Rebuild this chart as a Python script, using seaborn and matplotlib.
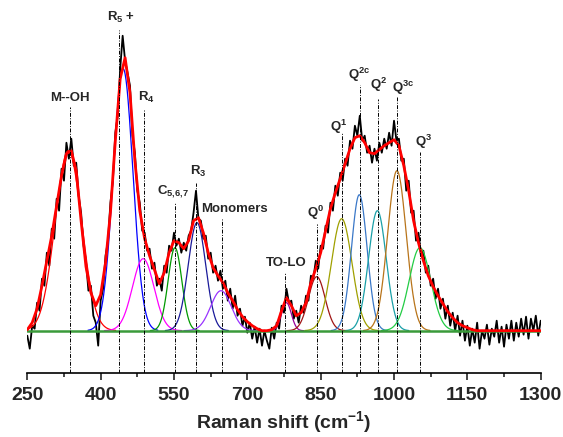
import numpy as np
import pandas as pd
import seaborn as sns
import matplotlib.pyplot as plt

# Raman shift grid of the measured spectrum (cm-1), 5 cm-1 steps
shift = np.arange(250, 1301, 5)

measured = [
    -5, -18, 5, 2, 28, 20, 52, 45, 78, 65, 102, 92, 132, 120, 162, 150, 188, 172, 192, 165,
    168, 135, 118, 85, 70, 40, 45, 15, 8, -15, 30, 42, 75, 90, 128, 150, 198, 215, 262, 295,
    270, 258, 245, 195, 178, 140, 128, 100, 98, 80, 82, 62, 68, 45, 52, 40, 65, 58, 85, 80,
    98, 85, 92, 78, 88, 80, 95, 100, 118, 140, 112, 110, 92, 95, 72, 78, 58, 65, 50, 60,
    42, 50, 30, 42, 22, 35, 15, 22, 5, 14, -2, 8, -8, 4, -12, 2, -15, 0, -10, -18,
    3, -8, 8, 2, 25, 18, 42, 28, 30, 12, 20, 8, 25, 18, 35, 30, 55, 52, 70, 62,
    85, 82, 105, 98, 128, 120, 145, 135, 158, 150, 172, 165, 190, 182, 205, 195, 215, 190, 195, 178,
    185, 168, 182, 170, 188, 178, 192, 182, 198, 185, 210, 190, 192, 170, 172, 140, 150, 118, 120, 90,
    98, 75, 80, 58, 65, 45, 52, 32, 42, 22, 32, 12, 25, 5, 18, 0, 15, -5, 10, -10,
    5, -15, 2, -12, 8, -18, 0, -8, 6, -14, 2, -6, 10, -12, 4, -16, 6, -8, 10, -10,
    8, -6, 12, -4, 14, -8, 12, 0, 15, -5, 10,
]

# cumulative fit, 10 cm-1 steps
fit_shift = np.arange(250, 1301, 10)
fit = [
    1, 8, 22, 45, 70, 95, 125, 155, 177, 180, 160, 110, 64, 38, 25, 36, 68, 118, 190, 252,
    273, 238, 170, 120, 92, 75, 61, 47, 58, 78, 90, 88, 82, 90, 110, 113, 98, 78, 63, 55,
    48, 38, 30, 21, 14, 9, 5, 2, 0, 0, 1, 5, 20, 33, 25, 15, 18, 28, 48, 62,
    78, 100, 122, 138, 152, 167, 182, 193, 195, 188, 178, 177, 181, 185, 188, 191, 185, 165, 140, 110,
    88, 70, 55, 44, 35, 27, 19, 13, 8, 5, 3, 1, 0, 0, 0, 0, 0, 0, 0, 0,
    0, 0, 0, 0, 0, 0,
]

# fitted bands: centre (cm-1), height, width (sigma)
band_names = ['M--OH', 'R5', 'R4', 'C567', 'R3', 'Mono', 'TOLO', 'Q0', 'Q1', 'Q2c', 'Q2', 'Q3c', 'Q3']
band_center = [334, 446, 487, 552, 597, 646, 780, 842, 893, 929, 966, 1006, 1053]
band_height = [180, 262, 72, 83, 108, 40, 28, 54, 112, 136, 120, 160, 83]
band_sigma = [27, 20, 22, 14, 18, 21, 10, 17, 21, 16, 18, 19, 22]
band_colors = ['#ff0000', '#0000ff', '#ff00ff', '#009900', '#1a1a9a', '#9933ff', '#990099',
               '#a01515', '#a0a000', '#3a78c8', '#1aa0a8', '#b8741a', '#22cc44']

# peak assignment labels
label_text = ['M--OH', 'R$_5$ +', 'R$_4$', 'C$_{5{,}6{,}7}$', 'R$_3$', 'Monomers', 'TO-LO',
              'Q$^0$', 'Q$^1$', 'Q$^{2c}$', 'Q$^2$', 'Q$^{3c}$', 'Q$^3$']
label_pos = [338, 437, 488, 552, 596, 648, 778, 842, 893, 930, 968, 1007, 1053]
line_top = [224, 301, 221, 128, 148, 112, 59, 107, 198, 246, 232, 234, 179]
label_x = [338, 441, 493, 548, 599, 674, 780, 839, 887, 929, 969, 1018, 1060]
label_y = [233, 313, 233, 139, 159, 122, 68, 118, 204, 256, 246, 243, 189]

sns.set_style('white')
plt.rcParams['font.family'] = ['Liberation Sans', 'DejaVu Sans']
plt.rcParams['mathtext.fontset'] = 'custom'
plt.rcParams['mathtext.rm'] = 'Liberation Sans:bold'
plt.rcParams['mathtext.bf'] = 'Liberation Sans:bold'
plt.rcParams['mathtext.default'] = 'bf'

fig = plt.figure(figsize=(5.63, 4.37), dpi=100)
ax = fig.add_axes([0.0485, 0.1465, 0.9119, 0.842])

sns.lineplot(x=shift, y=measured, color='black', lw=1.3, ax=ax, zorder=1)

rows = []
for n, c, h, s in zip(band_names, band_center, band_height, band_sigma):
    xx = np.arange(c - 3.6 * s, c + 3.6 * s, 1.0)
    for xv in xx:
        rows.append((n, xv, h * np.exp(-0.5 * ((xv - c) / s) ** 2)))
bands = pd.DataFrame(rows, columns=['band', 'shift', 'intensity'])
sns.lineplot(data=bands, x='shift', y='intensity', hue='band', hue_order=band_names,
             palette=dict(zip(band_names, band_colors)), lw=0.9, legend=False,
             ax=ax, zorder=2, sort=False, estimator=None)

ax.axhline(0, color='#3a9a3a', lw=1.8, zorder=3)
sns.lineplot(x=fit_shift, y=fit, color='#ff0000', lw=2.0, ax=ax, zorder=4)

ax.vlines(label_pos, -42, line_top, colors='black', lw=0.7,
          linestyles=(0, (4, 1.5, 1, 1.5)), zorder=5)
for t, xt, yt in zip(label_text, label_x, label_y):
    ax.text(xt, yt, t, ha='center', va='center', fontsize=9.5, fontweight='bold')

ax.set_xlim(250, 1300)
ax.set_ylim(-42.3, 325.7)
ax.set_xticks(np.arange(250, 1301, 150))
ax.set_xticks(np.arange(325, 1300, 150), minor=True)
ax.set_yticks([])
for side in ['left', 'top', 'right']:
    ax.spines[side].set_visible(False)
ax.spines['bottom'].set_linewidth(1.2)
ax.spines['bottom'].set_color('black')
ax.tick_params(axis='x', which='major', direction='out', length=5, width=1.2,
               labelsize=14, pad=5, bottom=True)
ax.tick_params(axis='x', which='minor', direction='out', length=3, width=1.2, bottom=True)
for lab in ax.get_xticklabels():
    lab.set_fontweight('bold')
ax.set_xlabel('Raman shift (cm$^{-1}$)', fontsize=14, fontweight='bold', labelpad=4)
ax.set_ylabel('')

fig.savefig('out.png', dpi=100)
